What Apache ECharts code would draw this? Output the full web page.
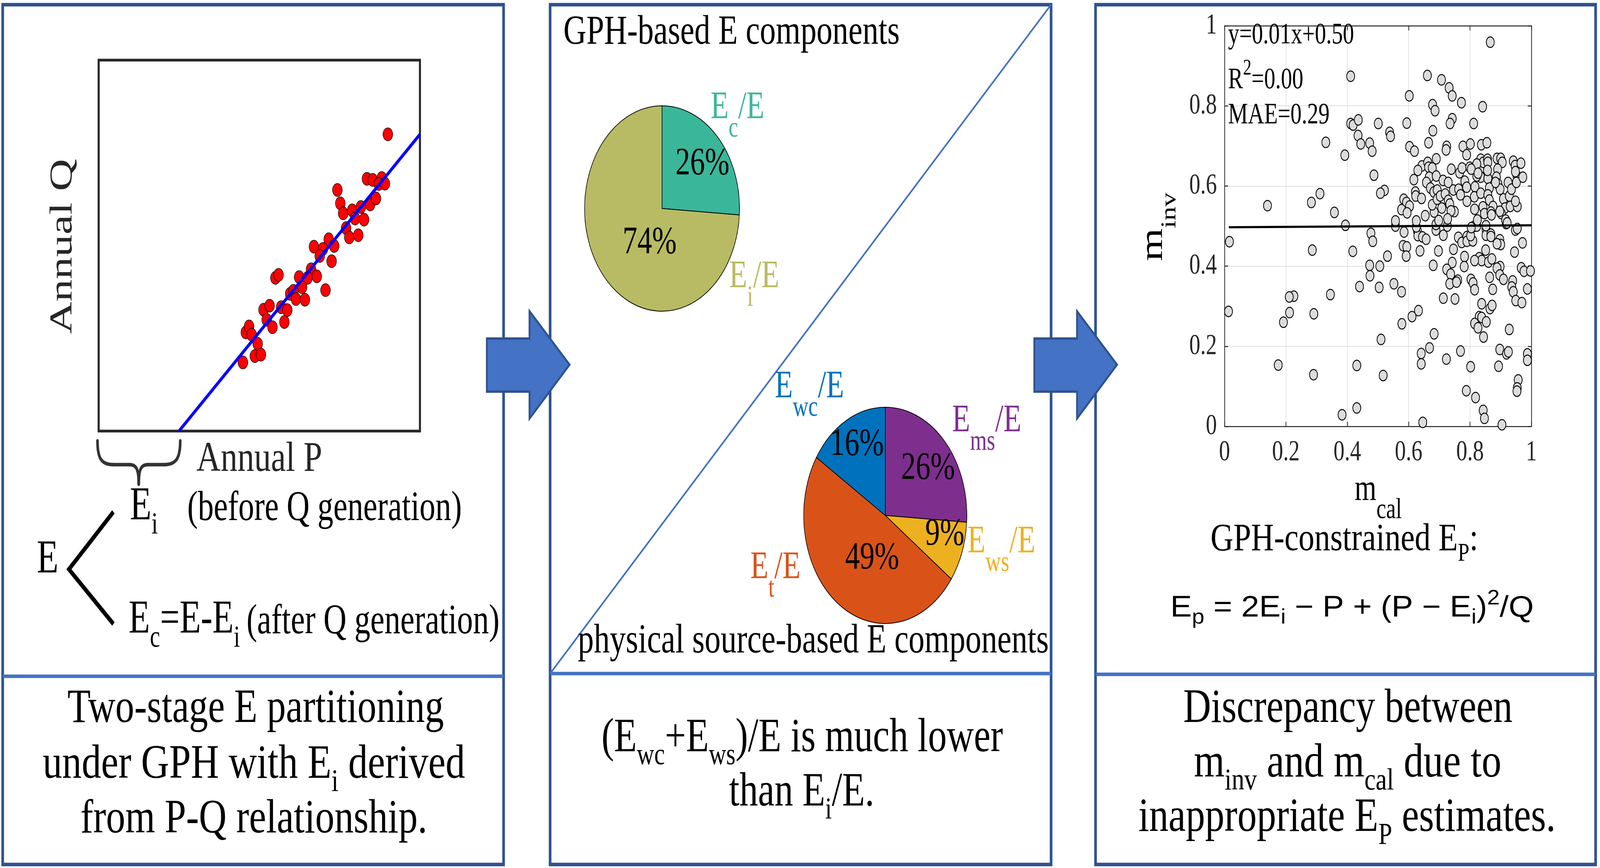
<!DOCTYPE html>
<html><head><meta charset="utf-8">
<script src="https://cdn.jsdelivr.net/npm/echarts@6/dist/echarts.min.js"></script>
<style>
html,body{margin:0;padding:0;background:#fff;overflow:hidden;width:100%;height:100%}
#wrap{position:relative;width:100vw;height:100vh;overflow:hidden;background:#fff}
#c{position:absolute;left:0;top:0;width:5433px;height:2223px;transform-origin:0 0}
</style>
</head><body><div id="wrap"><div id="c"></div></div>
<script>
// ---------------- data ----------------
// Panel 1: annual P (x) vs annual Q (y), arbitrary units 0..10
const pqPoints = [
 [9.00,8.00],[8.35,6.80],[8.53,6.77],[8.81,6.82],[8.72,6.66],[8.91,6.67],[7.43,6.50],[7.52,6.14],[7.61,5.87],[7.89,5.95],
 [8.16,6.04],[8.45,6.11],[8.63,6.27],[7.98,5.73],[8.26,5.70],[7.70,5.47],[7.80,5.22],[8.08,5.28],[7.16,5.17],[6.70,4.97],
 [6.98,4.91],[7.33,4.99],[6.88,4.72],[7.25,4.58],[6.61,4.36],[6.79,4.17],[6.24,4.15],[6.50,4.13],[6.33,3.88],[7.06,3.80],
 [5.50,4.13],[5.60,4.21],[5.96,3.70],[6.06,3.78],[6.14,3.56],[6.42,3.54],[5.13,3.27],[5.32,3.38],[5.68,3.34],[5.87,3.26],
 [5.23,3.00],[5.41,2.80],[5.78,2.94],[4.58,2.66],[4.68,2.82],[4.76,2.60],[4.95,2.35],[4.86,2.02],[5.05,2.06],[4.49,1.85]
];
const pqFitLine = [[2.5,0],[10,8]];

// Panel 2: pie shares (%)
const gphNames = ['Ec/E','Ei/E'];
const gphValues = [26,74];
const physNames = ['Ems/E','Ews/E','Et/E','Ewc/E'];
const physValues = [26,9,49,16];

// Panel 3: m_cal (x) vs m_inv (y)
const mPoints = [
 [0.411,0.874],[0.411,0.756],[0.419,0.752],[0.436,0.765],[0.435,0.726],[0.444,0.705],[0.473,0.707],[0.481,0.687],[0.330,0.709],[0.392,0.677],
 [0.487,0.627],[0.311,0.581],[0.283,0.559],[0.140,0.551],[0.358,0.534],[0.394,0.502],
 [0.477,0.482],[0.483,0.462],[0.016,0.461],[0.286,0.440],[0.418,0.437],[0.473,0.402],[0.474,0.376],[0.440,0.349],[0.226,0.325],[0.211,0.323],
 [0.345,0.329],[0.013,0.287],[0.212,0.284],[0.291,0.281],[0.192,0.260],[0.175,0.153],[0.431,0.152],[0.290,0.129],[0.431,0.046],[0.383,0.029],
 [0.585,0.485],[0.629,0.487],[0.630,0.476],[0.645,0.473],[0.657,0.467],[0.713,0.477],[0.582,0.451],[0.594,0.448],[0.592,0.425],[0.531,0.425],
 [0.637,0.438],[0.697,0.438],[0.506,0.400],[0.680,0.402],[0.504,0.347],[0.552,0.356],[0.577,0.336],[0.762,0.472],[0.773,0.459],[0.790,0.474],
 [0.790,0.462],[0.809,0.463],[0.802,0.476],[0.746,0.442],[0.782,0.424],[0.781,0.399],[0.742,0.409],[0.724,0.392],[0.737,0.380],[0.734,0.356],
 [0.760,0.365],[0.756,0.360],[0.713,0.320],[0.751,0.318],[0.812,0.499],[0.822,0.500],[0.852,0.492],[0.852,0.477],[0.868,0.480],[0.868,0.474],
 [0.897,0.466],[0.900,0.454],[0.888,0.456],[0.948,0.490],[0.954,0.494],[0.918,0.506],[0.971,0.458],[0.945,0.435],[0.851,0.440],[0.830,0.421],
 [0.838,0.414],[0.815,0.414],[0.860,0.410],[0.871,0.418],[0.898,0.399],[0.888,0.395],[0.897,0.378],[0.909,0.367],[0.864,0.372],[0.874,0.342],
 [0.803,0.367],[0.810,0.358],[0.815,0.341],[0.967,0.396],[0.976,0.387],[0.997,0.388],[0.939,0.363],[0.936,0.348],[0.941,0.336],[0.949,0.314],
 [0.969,0.309],[0.987,0.343],[0.838,0.306],[0.865,0.294],[0.872,0.302],[0.830,0.274],[0.838,0.272],[0.815,0.257],[0.826,0.246],[0.853,0.261],
 [0.844,0.223],[0.928,0.242],[0.632,0.289],[0.611,0.274],[0.578,0.256],[0.510,0.217],[0.683,0.231],[0.668,0.196],[0.641,0.182],[0.641,0.156],
 [0.723,0.168],[0.769,0.188],[0.802,0.149],[0.517,0.127],[0.897,0.192],[0.919,0.181],[0.925,0.186],[0.893,0.150],[0.987,0.181],[0.987,0.165],
 [0.788,0.089],[0.818,0.072],[0.843,0.040],[0.847,0.020],[0.957,0.116],[0.954,0.096],[0.953,0.088],[0.646,0.010],[0.904,0.004],[0.557,0.500],
 [0.625,0.498],[0.689,0.490],[0.726,0.500],
 [0.866,0.959],[0.661,0.876],[0.707,0.865],[0.732,0.845],[0.742,0.825],[0.602,0.825],[0.772,0.808],[0.841,0.798],[0.678,0.803],[0.686,0.788],
 [0.742,0.768],[0.735,0.756],[0.594,0.757],[0.501,0.756],[0.812,0.756],[0.538,0.734],[0.541,0.724],[0.679,0.738],[0.665,0.708],[0.603,0.698],
 [0.619,0.687],[0.724,0.699],[0.722,0.690],[0.777,0.699],[0.801,0.705],[0.789,0.678],[0.837,0.703],[0.855,0.708],[0.690,0.668],[0.521,0.589],
 [0.508,0.582],[0.643,0.650],[0.630,0.639],[0.662,0.659],[0.665,0.647],[0.677,0.645],[0.617,0.616],[0.667,0.622],[0.690,0.625],[0.658,0.609],
 [0.671,0.595],[0.682,0.585],[0.693,0.590],[0.622,0.585],[0.623,0.575],[0.642,0.569],[0.584,0.567],[0.593,0.559],[0.603,0.550],[0.577,0.541],
 [0.595,0.533],[0.557,0.513],[0.625,0.513],[0.654,0.526],[0.683,0.535],[0.689,0.504],[0.698,0.514],[0.677,0.553],[0.693,0.567],[0.703,0.575],
 [0.708,0.545],[0.712,0.614],[0.729,0.609],[0.739,0.642],[0.719,0.580],[0.729,0.564],[0.734,0.555],[0.749,0.536],[0.738,0.538],[0.727,0.518],
 [0.746,0.590],[0.766,0.633],[0.774,0.645],[0.763,0.592],[0.769,0.578],[0.783,0.612],[0.789,0.597],[0.790,0.562],[0.799,0.647],[0.811,0.644],
 [0.816,0.598],[0.814,0.573],[0.815,0.542],[0.824,0.515],[0.835,0.582],[0.835,0.622],[0.822,0.625],[0.835,0.667],[0.842,0.647],[0.843,0.659],
 [0.857,0.667],[0.858,0.659],[0.858,0.619],[0.863,0.595],[0.858,0.578],[0.863,0.565],[0.842,0.548],[0.847,0.531],[0.875,0.549],[0.868,0.535],
 [0.870,0.528],[0.852,0.501],[0.888,0.669],[0.900,0.669],[0.905,0.659],[0.890,0.642],[0.886,0.622],[0.891,0.605],[0.898,0.592],[0.909,0.568],
 [0.914,0.545],[0.902,0.531],[0.897,0.537],[0.916,0.515],[0.921,0.508],[0.924,0.609],[0.928,0.575],[0.931,0.549],[0.935,0.592],[0.941,0.662],
 [0.947,0.651],[0.953,0.625],[0.951,0.609],[0.948,0.636],[0.966,0.657],[0.972,0.622],[0.954,0.549],[0.948,0.562],[0.822,0.655],[0.804,0.642],
 [0.826,0.632],[0.857,0.639],[0.883,0.609],[0.804,0.496]
];
const mFitLine = [[0.014,0.497],[1.0,0.502]];
const mTickInterval = 0.2;
const statLines = ['y=0.01x+0.50', 'R2=0.00', 'MAE=0.29'];

// ---------------- helpers ----------------
const SERIF = 'Liberation Serif';
const SANS = 'Liberation Sans';
const mctx = document.createElement('canvas').getContext('2d');
function richSet(F, color, o) {
  const fam = o.family || SERIF;
  const s = F * (o.sr || 0.66);
  const drop = F * (o.drop != null ? o.drop : 0.22);
  const ps = F * (o.ps || 0.74);
  const raise = F * (o.raise != null ? o.raise : 0.5);
  const base = {fontFamily: fam, fill: color, verticalAlign: 'top'};
  return {
    n: Object.assign({}, base, {fontSize: F, lineHeight: 1.2 * F, padding: [0.4 * F, 0, 0, 0]}),
    b: Object.assign({}, base, {fontSize: s, lineHeight: 1.2 * s, padding: [Math.max(0, 1.3375 * F + drop - 0.9375 * s), 0, 0, 0]}),
    p: Object.assign({}, base, {fontSize: ps, lineHeight: 1.2 * ps, padding: [Math.max(0, 1.3375 * F - raise - 0.9375 * ps), 0, 0, 0]})
  };
}
function measureRich(str, rich) {
  let w = 0;
  str.replace(/\{(\w+)\|([^}]*)\}/g, function (m, k, t) {
    const s = rich[k];
    mctx.font = s.fontSize + 'px "' + s.fontFamily + '"';
    w += mctx.measureText(t).width;
    return m;
  });
  return w;
}
function T(o) {
  const F = o.F;
  const rich = richSet(F, o.color || '#000', o);
  let sx = 1;
  if (o.w) sx = o.w / measureRich(o.text, rich);
  return {
    type: 'text', z: 50, silent: true, x: o.x, y: o.y, rotation: o.rot || 0, scaleX: sx, scaleY: 1,
    style: {x: 0, y: -1.3375 * F, text: o.text, rich: rich, fill: o.color || '#000', align: o.align || 'left', verticalAlign: 'top'}
  };
}
function bez(p) {
  return {type: 'bezierCurve', z: 20, shape: {x1: p[0], y1: p[1], cpx1: p[2], cpy1: p[3], cpx2: p[4], cpy2: p[5], x2: p[6], y2: p[7]},
          style: {stroke: '#333', lineWidth: 9, fill: null, lineCap: 'round'}};
}
function seg(x1, y1, x2, y2, c, w) {
  return {type: 'line', z: 20, shape: {x1: x1, y1: y1, x2: x2, y2: y2}, style: {stroke: c, lineWidth: w, lineCap: 'round'}};
}

const BORDER = '#2F528F', DIV = '#4472C4', ARROW = '#4472C4';
const TEAL = '#3AB79B', OLIVE = '#B8BB63';
const MBLUE = '#0072BD', MORANGE = '#D95319', MYELLOW = '#EDB120', MPURPLE = '#7E2F8E';
const MSUB = {drop: 0.44, sr: 0.73};

const graphics = [
  // panel frames
  {type: 'rect', z: 1, shape: {x: 9, y: 12, width: 1701, height: 2202}, style: {fill: null, stroke: BORDER, lineWidth: 9}},
  {type: 'rect', z: 1, shape: {x: 1868, y: 12, width: 1701, height: 2202}, style: {fill: null, stroke: BORDER, lineWidth: 9}},
  {type: 'rect', z: 1, shape: {x: 3720, y: 12, width: 1698, height: 2202}, style: {fill: null, stroke: BORDER, lineWidth: 9}},
  {type: 'line', z: 2, shape: {x1: 9, y1: 1732, x2: 1710, y2: 1732}, style: {stroke: DIV, lineWidth: 9}},
  {type: 'line', z: 2, shape: {x1: 1868, y1: 1725, x2: 3569, y2: 1725}, style: {stroke: DIV, lineWidth: 9}},
  {type: 'line', z: 2, shape: {x1: 3720, y1: 1727, x2: 5418, y2: 1727}, style: {stroke: DIV, lineWidth: 9}},
  {type: 'line', z: 2, shape: {x1: 1868, y1: 1725, x2: 3569, y2: 12}, style: {stroke: DIV, lineWidth: 5}},
  // arrows
  {type: 'polygon', z: 20, shape: {points: [[1653,867],[1798,867],[1798,797],[1934,934],[1798,1072],[1798,1003],[1653,1003]]},
   style: {fill: ARROW, stroke: BORDER, lineWidth: 6}},
  {type: 'polygon', z: 20, shape: {points: [[3512,867],[3657,867],[3657,797],[3793,934],[3657,1072],[3657,1003],[3512,1003]]},
   style: {fill: ARROW, stroke: BORDER, lineWidth: 6}},
  // curly brace under the P axis
  bez([331,1129, 331,1175, 345,1190, 385,1190]),
  seg(385,1190, 440,1190, '#333', 9),
  bez([440,1190, 462,1190, 471,1200, 471,1240]),
  bez([471,1240, 471,1200, 480,1190, 502,1190]),
  seg(502,1190, 557,1190, '#333', 9),
  bez([557,1190, 597,1190, 612,1175, 612,1129]),
  // E branches
  {type: 'polyline', z: 20, shape: {points: [[385,1311],[234,1458],[385,1598]]}, style: {stroke: '#000', lineWidth: 12, fill: null}},

  // ---- panel 1 texts
  T({x: 262, y: 631, text: '{n|Annual Q}', F: 109, color: '#262626', rot: Math.PI / 2, align: 'center', w: 448}),
  T({x: 667, y: 1225, text: '{n|Annual P}', F: 109, color: '#262626', w: 427}),
  T({x: 125, y: 1487, text: '{n|E}', F: 120}),
  T({x: 441, y: 1351, text: '{n|E}{b|i}', F: 120, drop: 0.24}),
  T({x: 636, y: 1351, text: '{n|(before Q generation)}', F: 108, w: 932}),
  T({x: 437, y: 1641, text: '{n|E}{b|c}{n|=E-E}{b|i}', F: 120, drop: 0.24, w: 378}),
  T({x: 837, y: 1641, text: '{n|(after Q generation)}', F: 108, w: 859}),
  T({x: 868, y: 1870, text: '{n|Two-stage E partitioning}', F: 122, align: 'center', w: 1278}),
  T({x: 862, y: 2013, text: '{n|under GPH with E}{b|i}{n| derived}', F: 122, align: 'center', w: 1434}),
  T({x: 862, y: 2153, text: '{n|from P-Q relationship.}', F: 122, align: 'center', w: 1178}),

  // ---- panel 2 texts
  T({x: 1913, y: 131, text: '{n|GPH-based E components}', F: 106, w: 1142}),
  T(Object.assign({x: 2413, y: 319, text: '{n|E}{b|c}{n|/E}', F: 100, color: TEAL}, MSUB)),
  T(Object.assign({x: 2476, y: 752, text: '{n|E}{b|i}{n|/E}', F: 100, color: OLIVE}, MSUB)),
  T(Object.assign({x: 2631, y: 1034, text: '{n|E}{b|wc}{n|/E}', F: 100, color: MBLUE}, MSUB)),
  T(Object.assign({x: 3233, y: 1121, text: '{n|E}{b|ms}{n|/E}', F: 100, color: MPURPLE}, MSUB)),
  T(Object.assign({x: 3285, y: 1431, text: '{n|E}{b|ws}{n|/E}', F: 100, color: MYELLOW}, MSUB)),
  T(Object.assign({x: 2548, y: 1497, text: '{n|E}{b|t}{n|/E}', F: 100, color: MORANGE}, MSUB)),
  T({x: 1962, y: 1690, text: '{n|physical source-based E components}', F: 106, w: 1599}),
  T({x: 2724, y: 1945, text: '{n|(E}{b|wc}{n|+E}{b|ws}{n|)/E is much lower}', F: 122, align: 'center', w: 1363, sr: 0.64, drop: 0.21}),
  T({x: 2722, y: 2084, text: '{n|than E}{b|i}{n|/E.}', F: 122, align: 'center', w: 493, sr: 0.64, drop: 0.21}),

  // ---- panel 3 texts
  T({x: 4170, y: 124, text: '{n|' + statLines[0] + '}', F: 76}),
  T({x: 4170, y: 239, text: '{n|R}{p|2}{n|=0.00}', F: 76, raise: 0.5, ps: 0.76}),
  T({x: 4170, y: 329, text: '{n|' + statLines[2] + '}', F: 76}),
  T({x: 4680, y: 1297, text: '{n|m}{b|cal}', F: 95, align: 'center', drop: 0.45, sr: 0.78}),
  T({x: 3965, y: 581, text: '{n|m}{b|inv}', F: 108, align: 'center', drop: 0.36, sr: 0.66, rot: Math.PI / 2}),
  T({x: 4565, y: 1426, text: '{n|GPH-constrained E}{b|P}{n|:}', F: 100, align: 'center', w: 909}),
  T({x: 4591, y: 1591, text: '{n|E}{b|p}{n| = 2E}{b|i}{n| − P + (P − E}{b|i}{n|)}{p|2}{n|/Q}', F: 76, family: SANS, align: 'center', w: 1234, drop: 0.2, sr: 0.7, raise: 0.45, ps: 0.7}),
  T({x: 4577, y: 1870, text: '{n|Discrepancy between}', F: 122, align: 'center', w: 1118}),
  T({x: 4576, y: 2010, text: '{n|m}{b|inv}{n| and m}{b|cal}{n| due to}', F: 122, align: 'center', w: 1044, sr: 0.64, drop: 0.21}),
  T({x: 4574, y: 2149, text: '{n|inappropriate E}{b|P}{n| estimates.}', F: 122, align: 'center', w: 1417, sr: 0.64, drop: 0.21})
];

const pie1Off = [[39,-22],[56,-4]];
const pie2Off = [[42,-23],[69,1],[35,-7],[-28,-57]];
const pctLabel = {show: true, position: 'inside', formatter: '{c}%', fontSize: 100, fontFamily: SERIF, color: '#000'};

const axisCol = '#262626';
const mAxisCommon = {
  type: 'value', min: 0, max: 1, interval: mTickInterval, gridIndex: 1,
  axisLine: {show: true, onZero: false, lineStyle: {color: axisCol, width: 2.5}},
  axisTick: {show: true, inside: true, length: 12, lineStyle: {color: axisCol, width: 2.5}}
};

const option = {
  animation: false,
  backgroundColor: '#fff',
  grid: [
    {left: 335, top: 154, width: 1091, height: 950, show: true, borderColor: '#262626', borderWidth: 7, backgroundColor: 'transparent'},
    {left: 4158, top: 66, width: 1042, height: 1026}
  ],
  xAxis: [
    {gridIndex: 0, type: 'value', min: 0, max: 10, show: false},
    Object.assign({}, mAxisCommon, {position: 'bottom',
      axisLabel: {fontSize: 75, fontFamily: SERIF, color: axisCol, margin: 30},
      splitLine: {show: true, lineStyle: {color: '#DFDFDF', width: 2}}}),
    Object.assign({}, mAxisCommon, {position: 'top', axisLabel: {show: false}, splitLine: {show: false}})
  ],
  yAxis: [
    {gridIndex: 0, type: 'value', min: 0, max: 10, show: false},
    Object.assign({}, mAxisCommon, {position: 'left',
      axisLabel: {fontSize: 75, fontFamily: SERIF, color: axisCol, margin: 26},
      splitLine: {show: true, lineStyle: {color: '#DFDFDF', width: 2}}}),
    Object.assign({}, mAxisCommon, {position: 'right', axisLabel: {show: false}, splitLine: {show: false}})
  ],
  series: [
    {type: 'scatter', xAxisIndex: 0, yAxisIndex: 0, data: pqPoints, symbolSize: 33, z: 2,
     itemStyle: {color: '#FF0000', borderColor: '#000', borderWidth: 1.5, opacity: 1}},
    {type: 'line', xAxisIndex: 0, yAxisIndex: 0, data: pqFitLine, symbol: 'none', z: 3,
     lineStyle: {color: '#0000FF', width: 9}},
    {type: 'pie', center: [2248, 534], radius: 263, startAngle: 90, clockwise: true, silent: true,
     data: gphNames.map((n, i) => ({name: n, value: gphValues[i], itemStyle: {color: [TEAL, OLIVE][i]}})),
     itemStyle: {borderColor: '#000', borderWidth: 2},
     label: pctLabel, labelLine: {show: false},
     labelLayout: p => ({dx: pie1Off[p.dataIndex][0], dy: pie1Off[p.dataIndex][1]})},
    {type: 'pie', center: [3006, 1320], radius: 277, startAngle: 90, clockwise: true, silent: true,
     data: physNames.map((n, i) => ({name: n, value: physValues[i], itemStyle: {color: [MPURPLE, MYELLOW, MORANGE, MBLUE][i]}})),
     itemStyle: {borderColor: '#000', borderWidth: 2},
     label: pctLabel, labelLine: {show: false},
     labelLayout: p => ({dx: pie2Off[p.dataIndex][0], dy: pie2Off[p.dataIndex][1]})},
    {type: 'scatter', xAxisIndex: 1, yAxisIndex: 1, data: mPoints, symbolSize: 27, z: 2,
     itemStyle: {color: '#DCDCDC', borderColor: '#000', borderWidth: 2.5, opacity: 1}},
    {type: 'line', xAxisIndex: 1, yAxisIndex: 1, data: mFitLine, symbol: 'none', z: 3,
     lineStyle: {color: '#000', width: 5.5}}
  ],
  graphic: {elements: graphics}
};

// fit the 5433x2223 design into whatever viewport we actually get
const vw = window.innerWidth || 5433, vh = window.innerHeight || 2223;
const sx = vw / 5433, sy = vh / 2223;
const el = document.getElementById('c');
el.style.transform = 'scale(' + sx + ',' + sy + ')';
const dpr = (window.devicePixelRatio || 1) * Math.max(sx, sy);
const chart = echarts.init(el, null, {renderer: 'canvas', width: 5433, height: 2223, devicePixelRatio: dpr});
chart.setOption(option);
</script>
</body></html>
